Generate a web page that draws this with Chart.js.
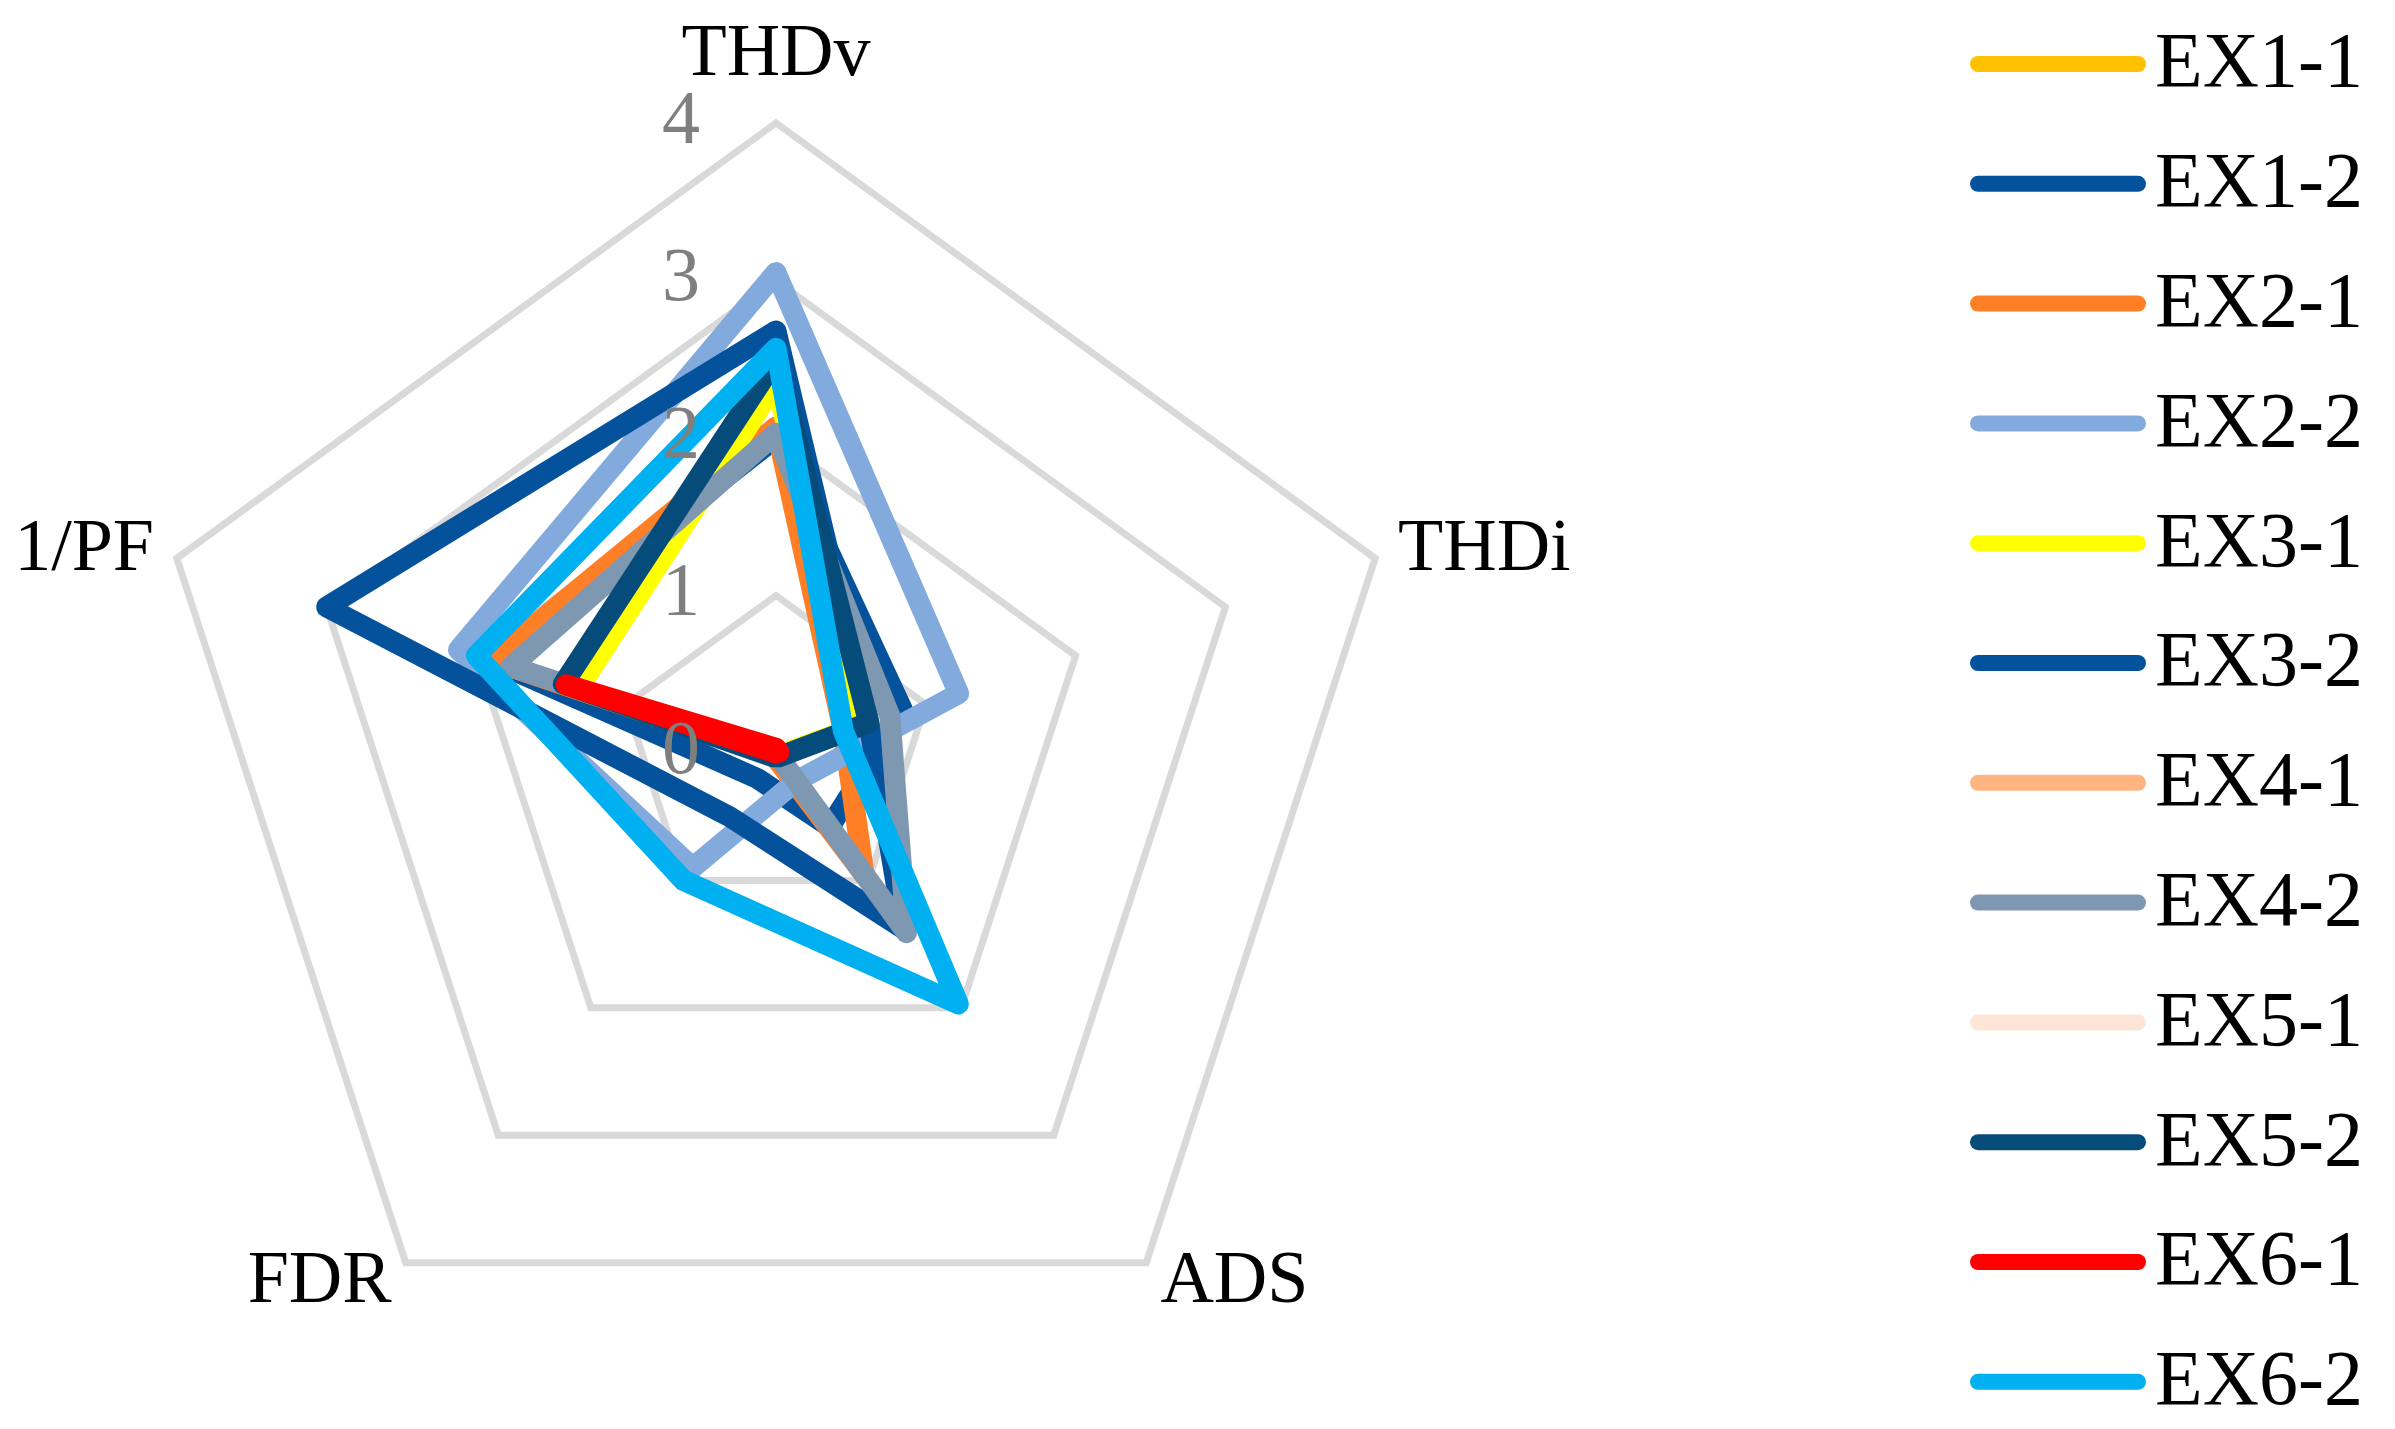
<!DOCTYPE html>
<html>
<head>
<meta charset="utf-8">
<script src="https://cdn.jsdelivr.net/npm/chart.js@4.4.1/dist/chart.umd.min.js"></script>
<style>
  html, body { margin: 0; padding: 0; background: #fff; }
  #wrap { width: 2395px; height: 1429px; }
</style>
</head>
<body>
<div id="wrap"><canvas id="radar" width="2395" height="1429"></canvas></div>
<script>
// eixos do radar (sentido horário a partir do topo)
const categories = ['THDv', 'THDi', 'ADS', 'FDR', '1/PF'];
const tickValues = [0, 1, 2, 3, 4];

const seriesNames = ['EX1-1', 'EX1-2', 'EX2-1', 'EX2-2', 'EX3-1', 'EX3-2',
                     'EX4-1', 'EX4-2', 'EX5-1', 'EX5-2', 'EX6-1', 'EX6-2'];
const seriesColors = ['#FFC000', '#03529B', '#FF7F27', '#82AADD', '#FFFF00', '#03529B',
                      '#FFB482', '#7E98B2', '#FDE6D8', '#064C7A', '#FF0000', '#00B0F0'];

// valores: THDv, THDi, ADS, FDR, 1/PF
const ex1_1 = [0.02, 0.02, 0.00, 0.00, 1.38];
const ex1_2 = [2.00, 0.85, 0.58, 0.20, 1.90];
const ex2_1 = [2.07, 0.45, 0.95, 0.02, 1.90];
const ex2_2 = [3.05, 1.22, 0.22, 0.90, 2.12];
const ex3_1 = [2.35, 0.58, 0.02, 0.02, 1.32];
const ex3_2 = [2.68, 0.62, 1.38, 0.50, 3.00];
const ex4_1 = [0.02, 0.01, 0.00, 0.00, 1.36];
const ex4_2 = [2.03, 0.76, 1.41, 0.00, 1.77];
const ex5_1 = [0.03, 0.02, 0.00, 0.00, 1.37];
const ex5_2 = [2.50, 0.62, 0.03, 0.03, 1.42];
const ex6_1 = [0.03, 0.02, 0.00, 0.00, 1.40];
const ex6_2 = [2.57, 0.45, 1.97, 1.00, 2.00];

const seriesValues = [ex1_1, ex1_2, ex2_1, ex2_2, ex3_1, ex3_2,
                      ex4_1, ex4_2, ex5_1, ex5_2, ex6_1, ex6_2];

const serifFont = '"Liberation Serif", "Times New Roman", serif';
const lineWidth = 21;

// séries posteriores ficam por cima, como no Excel
const datasets = seriesNames.map((name, i) => ({
    label: name,
    data: seriesValues[i],
    borderColor: seriesColors[i],
    backgroundColor: 'transparent',
    borderWidth: lineWidth,
    borderJoinStyle: 'round',
    borderCapStyle: 'round',
    pointRadius: 0,
    fill: false,
    order: seriesNames.length - i
}));

// rótulos dos eixos, valores da escala e legenda desenhados à mão
const radarText = {
    id: 'radarText',
    afterDraw(chart) {
        const ctx = chart.ctx;
        const r = chart.scales.r;
        ctx.save();

        // valores da escala, à esquerda do eixo THDv
        ctx.font = '76px ' + serifFont;
        ctx.fillStyle = '#7F7F7F';
        ctx.textAlign = 'center';
        ctx.textBaseline = 'middle';
        r.ticks.forEach(t => {
            const p = r.getPointPositionForValue(0, t.value);
            ctx.fillText(t.label, p.x - 95, p.y);
        });

        // nomes dos eixos
        ctx.font = '74px ' + serifFont;
        ctx.fillStyle = '#000';
        chart.data.labels.forEach((label, i) => {
            const top = i === 0;
            const p = r.getPointPosition(i, r.drawingArea + (top ? 48 : 24));
            const dx = p.x - r.xCenter;
            ctx.textAlign = Math.abs(dx) < 1 ? 'center' : (dx > 0 ? 'left' : 'right');
            ctx.textBaseline = top ? 'alphabetic' : 'middle';
            ctx.fillText(label, p.x, p.y);
        });

        // legenda
        ctx.font = '78px ' + serifFont;
        ctx.textAlign = 'left';
        ctx.textBaseline = 'middle';
        ctx.lineCap = 'round';
        ctx.lineWidth = 16;
        chart.data.datasets.forEach((ds, i) => {
            const y = 64 + i * 119.8;
            ctx.strokeStyle = ds.borderColor;
            ctx.beginPath();
            ctx.moveTo(1978, y);
            ctx.lineTo(2138, y);
            ctx.stroke();
            ctx.fillStyle = '#000';
            ctx.fillText(ds.label, 2155, y + 2);
        });

        ctx.restore();
    }
};

new Chart(document.getElementById('radar'), {
    type: 'radar',
    data: { labels: categories, datasets: datasets },
    options: {
        responsive: false,
        devicePixelRatio: 1,
        animation: false,
        events: [],
        layout: { padding: { left: 146, right: 989, top: 123, bottom: 46 } },
        plugins: {
            legend: { display: false },
            tooltip: { enabled: false }
        },
        elements: {
            line: { tension: 0, borderWidth: lineWidth, borderJoinStyle: 'round', borderCapStyle: 'round' }
        },
        scales: {
            r: {
                min: tickValues[0],
                max: tickValues[tickValues.length - 1],
                ticks: { stepSize: 1, display: false },
                grid: { color: '#D9D9D9', lineWidth: 7, circular: false },
                angleLines: { display: false },
                pointLabels: { display: false }
            }
        }
    },
    plugins: [radarText]
});
</script>
</body>
</html>
